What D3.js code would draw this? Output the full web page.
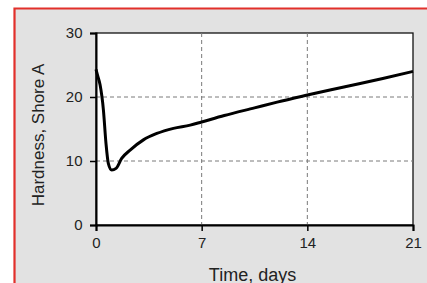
<!DOCTYPE html>
<html>
<head>
<meta charset="utf-8">
<script src="https://cdn.jsdelivr.net/npm/d3@7"></script>
<style>
  body { margin: 0; background: #fff; }
  svg { display: block; }
</style>
</head>
<body>
<svg id="canvas"></svg>
<script>
// Data
let days = [0, 0.1, 0.27, 0.49, 0.66, 0.82, 1.04, 1.33, 1.7, 2.26, 3.14, 4.03, 5.13, 6.24, 7, 8.5, 10.5, 12, 14, 15.5, 17.5, 19, 21];
let hardness = [24.3, 23.4, 21.9, 18, 12.8, 9.6, 8.6, 8.85, 10.4, 11.7, 13.3, 14.3, 15.1, 15.6, 16.1, 17.1, 18.3, 19.2, 20.3, 21.1, 22.1, 22.9, 24];
let xTicks = [0, 7, 14, 21];
let yTicks = [0, 10, 20, 30];

let width = 427;
let height = 283;
let plotLeft = 96, plotRight = 413, plotTop = 33, plotBottom = 225;

let canvas = d3.select("#canvas").attr("width", width).attr("height", height);

// panel background with red frame on left and top
canvas.append("rect")
  .attr("x", 14).attr("y", 8)
  .attr("width", width - 14).attr("height", height - 8)
  .attr("fill", "#e2e2e2");
canvas.append("path")
  .attr("d", `M14.5,${height} L14.5,8.5 L${width},8.5`)
  .attr("fill", "none")
  .attr("stroke", "#e2302b")
  .attr("stroke-width", 2.2);

let xScale = d3.scaleLinear().domain([0, 21]).range([plotLeft, plotRight]);
let yScale = d3.scaleLinear().domain([0, 30]).range([plotBottom, plotTop]);

// plot area
canvas.append("rect")
  .attr("x", plotLeft).attr("y", plotTop)
  .attr("width", plotRight - plotLeft).attr("height", plotBottom - plotTop)
  .attr("fill", "#fff")
  .attr("stroke", "#111")
  .attr("stroke-width", 1.3);

// grid
canvas.append("g")
  .selectAll("line")
  .data(xTicks.slice(1, -1))
  .enter()
  .append("line")
  .attr("x1", (d) => xScale(d)).attr("x2", (d) => xScale(d))
  .attr("y1", plotTop).attr("y2", plotBottom)
  .attr("stroke", "#7a7a7a")
  .attr("stroke-dasharray", "4,3");

canvas.append("g")
  .selectAll("line")
  .data(yTicks.slice(1, -1))
  .enter()
  .append("line")
  .attr("y1", (d) => yScale(d)).attr("y2", (d) => yScale(d))
  .attr("x1", plotLeft).attr("x2", plotRight)
  .attr("stroke", "#7a7a7a")
  .attr("stroke-dasharray", "4,3");

// axes
let xAxis = d3.axisBottom(xScale).tickValues(xTicks).tickSize(6).tickPadding(6);
let yAxis = d3.axisLeft(yScale).tickValues(yTicks).tickSize(6).tickPadding(6);

let gx = canvas.append("g")
  .attr("id", "x-axis")
  .attr("transform", "translate(0, " + plotBottom + ")")
  .call(xAxis);
let gy = canvas.append("g")
  .attr("id", "y-axis")
  .attr("transform", "translate(" + plotLeft + ", 0)")
  .call(yAxis);

[gx, gy].forEach((g) => {
  g.select(".domain").attr("stroke", "#000").attr("stroke-width", 2);
  g.selectAll(".tick line").attr("stroke", "#000").attr("stroke-width", 1.5);
  g.selectAll(".tick text")
    .attr("fill", "#222")
    .style("font-family", "Liberation Sans, Arial, sans-serif")
    .style("font-size", "15px");
});
gy.selectAll(".tick text").attr("dx", "-0.1em");

// curve
let line = d3.line()
  .x((d, i) => xScale(days[i]))
  .y((d) => yScale(d))
  .curve(d3.curveMonotoneX);

canvas.append("path")
  .datum(hardness)
  .attr("d", line)
  .attr("fill", "none")
  .attr("stroke", "#000")
  .attr("stroke-width", 3)
  .attr("stroke-linejoin", "round");

// titles
canvas.append("text")
  .attr("x", (plotLeft + plotRight) / 2 - 2)
  .attr("y", 281)
  .attr("text-anchor", "middle")
  .attr("fill", "#222")
  .style("font-family", "Liberation Sans, Arial, sans-serif")
  .style("font-size", "18px")
  .text("Time, days");

canvas.append("text")
  .attr("transform", "translate(44, 135) rotate(-90)")
  .attr("text-anchor", "middle")
  .attr("fill", "#222")
  .style("font-family", "Liberation Sans, Arial, sans-serif")
  .style("font-size", "17px")
  .text("Hardness, Shore A");
</script>
</body>
</html>
